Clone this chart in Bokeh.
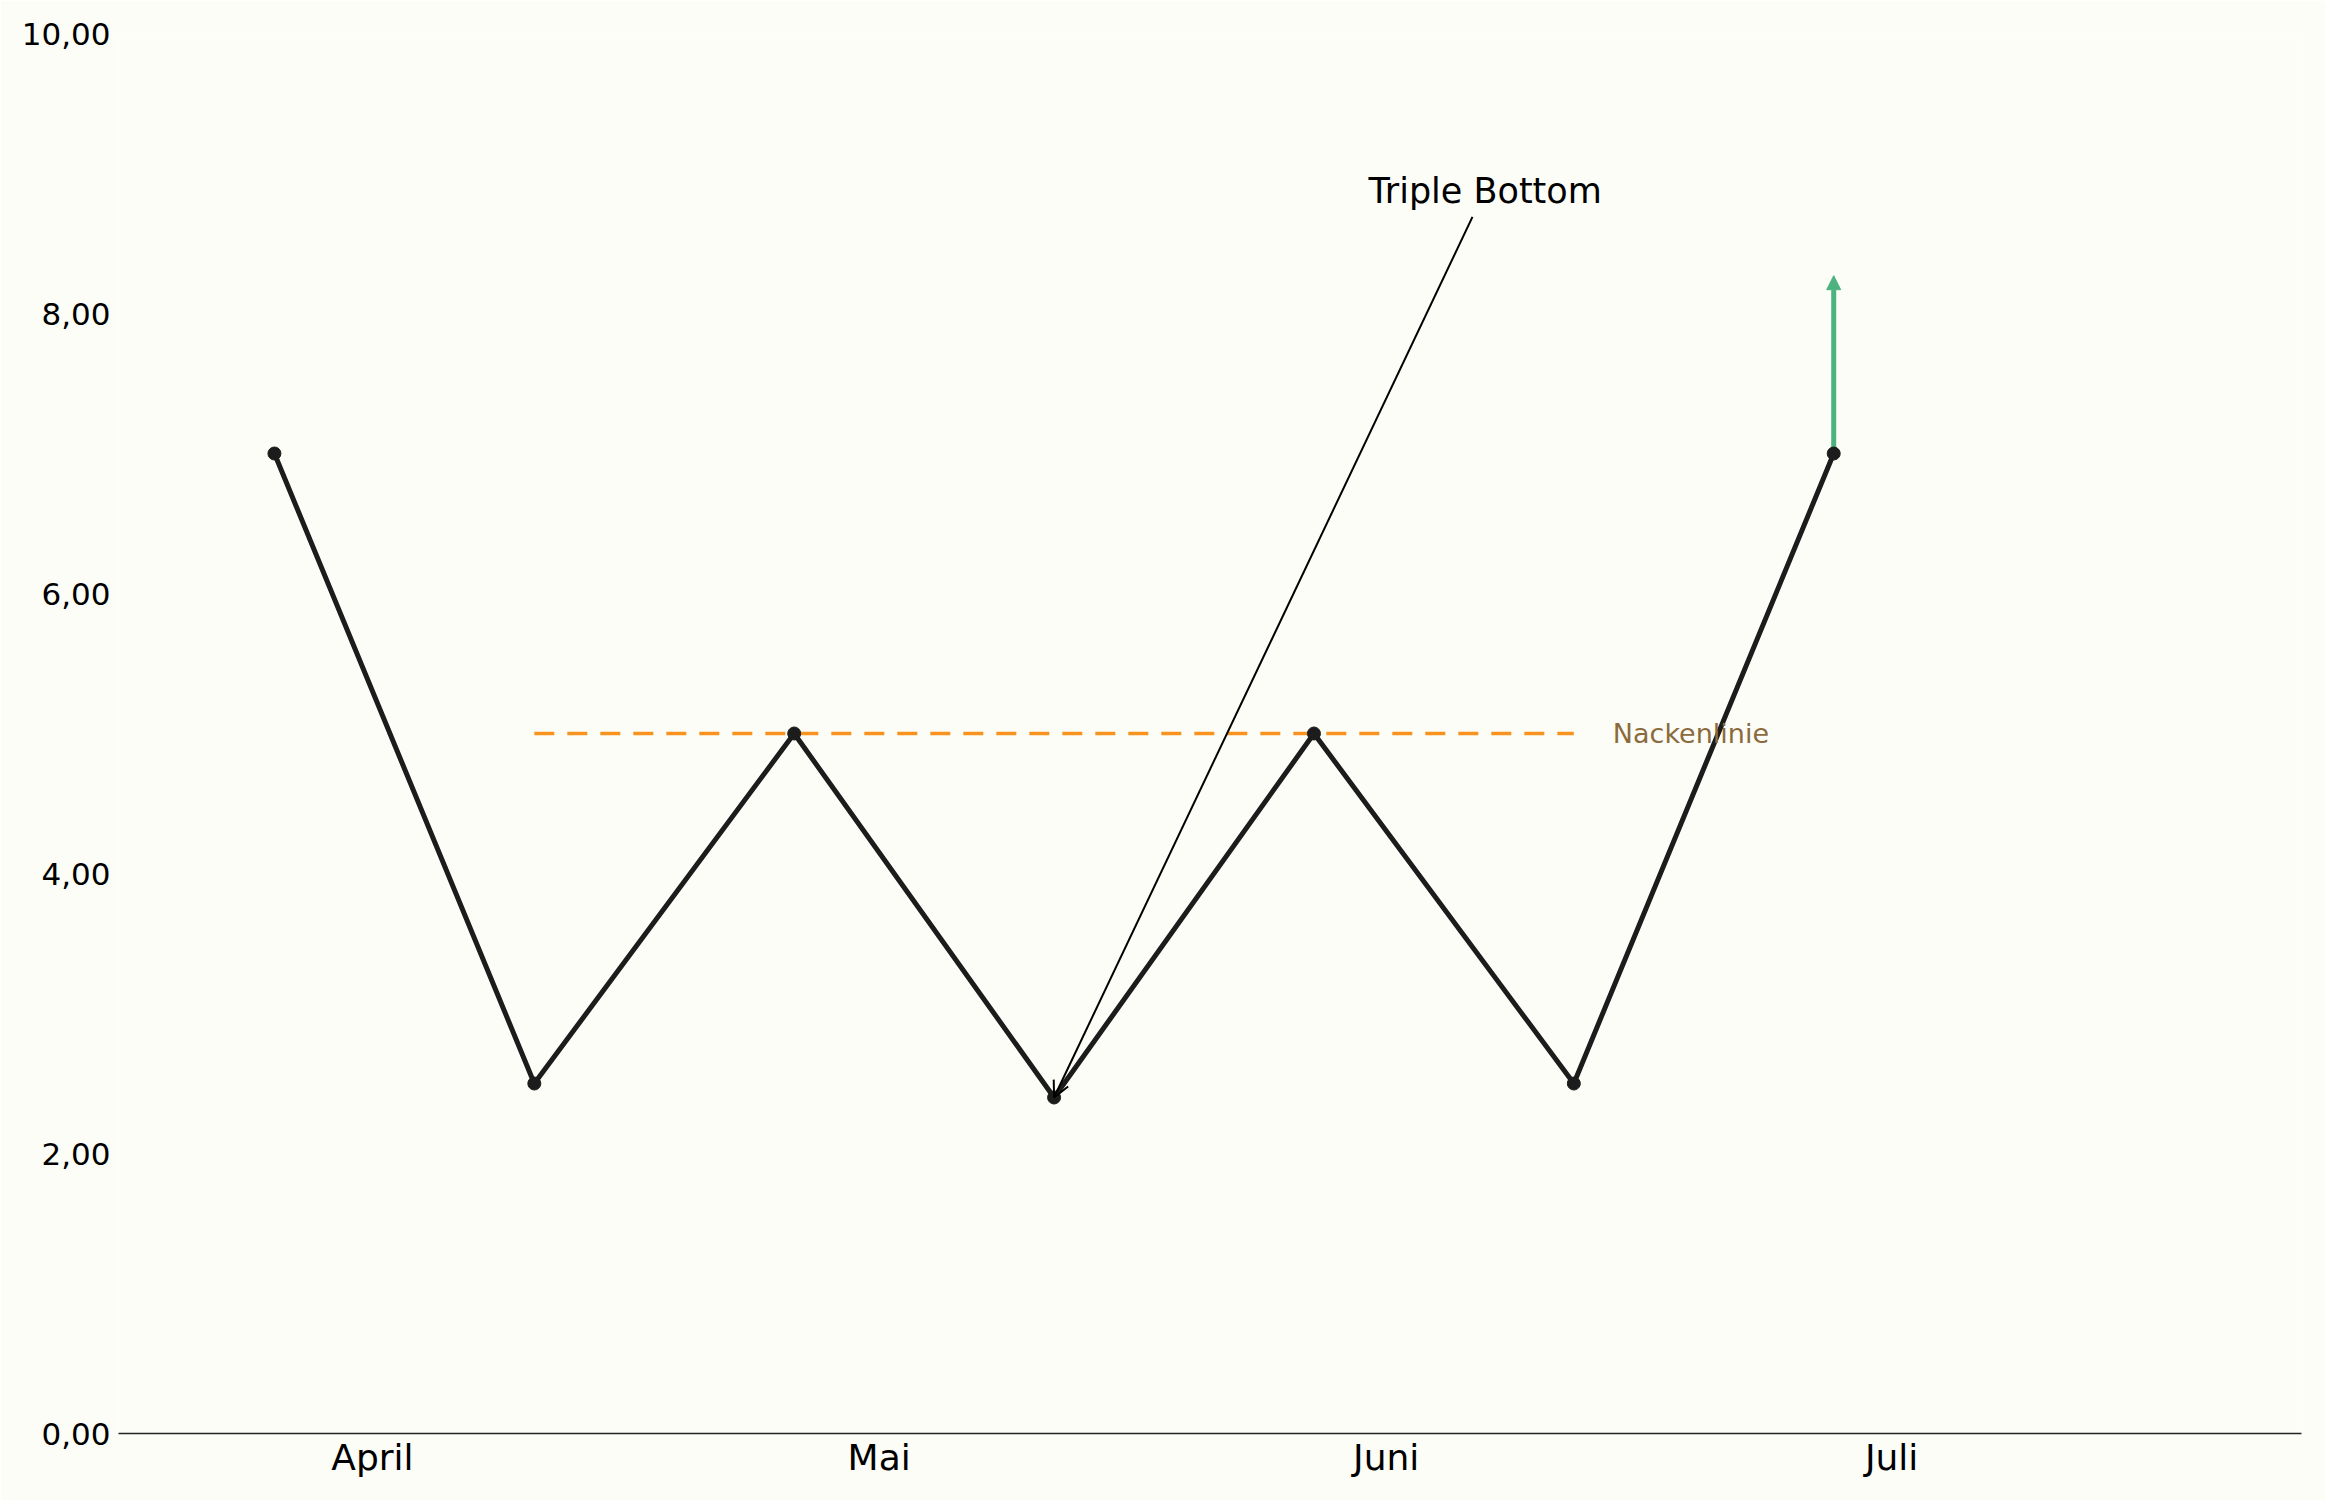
from bokeh.plotting import figure
from bokeh.models import Range1d, FixedTicker, Arrow, OpenHead, NormalHead, Label
from bokeh.embed import file_html
from bokeh.resources import INLINE

# ---- data ----
x_idx = [0, 1, 2, 3, 4, 5, 6]
prices = [7.0, 2.5, 5.0, 2.4, 5.0, 2.5, 7.0]

month_labels = ["April", "Mai", "Juni", "Juli"]
month_pos = [0.377, 2.327, 4.278, 6.223]

y_ticks = [0, 2, 4, 6, 8, 10]
y_tick_labels = ["0,00", "2,00", "4,00", "6,00", "8,00", "10,00"]

neck_level = 5.0
neck_x = [1, 5]
neck_label = "Nackenlinie"
neck_label_x = 5.15

breakout_x = 6
breakout_from = 7.0
breakout_to = 8.27

annot_text = "Triple Bottom"
annot_text_xy = (4.21, 8.875)
annot_line_start = (4.61, 8.69)
annot_target = (3, 2.4)

BG = "#FDFDF8"

p = figure(width=2325, height=1500, output_backend="svg", toolbar_location=None,
           x_range=Range1d(-0.6, 7.8), y_range=Range1d(0, 10),
           min_border_left=118, min_border_right=24, min_border_top=33, min_border_bottom=67)
p.background_fill_color = BG
p.border_fill_color = BG
p.outline_line_color = None
p.xgrid.grid_line_color = None
p.ygrid.grid_line_color = None

# axes
p.xaxis.ticker = FixedTicker(ticks=month_pos)
p.xaxis.major_label_overrides = {pos: lab for pos, lab in zip(month_pos, month_labels)}
p.xaxis.axis_line_color = "#222222"
p.xaxis.axis_line_width = 1.5
p.xaxis.major_tick_line_color = None
p.xaxis.minor_tick_line_color = None
p.xaxis.major_tick_out = 0
p.xaxis.major_tick_in = 0
p.xaxis.major_label_standoff = 3
p.xaxis.major_label_text_font = "DejaVu Sans"
p.xaxis.major_label_text_font_size = "36px"
p.xaxis.major_label_text_color = "#000000"

p.yaxis.ticker = FixedTicker(ticks=y_ticks)
p.yaxis.major_label_overrides = {t: l for t, l in zip(y_ticks, y_tick_labels)}
p.yaxis.axis_line_color = None
p.yaxis.major_tick_line_color = None
p.yaxis.minor_tick_line_color = None
p.yaxis.major_tick_out = 0
p.yaxis.major_tick_in = 0
p.yaxis.major_label_standoff = 8
p.yaxis.major_label_text_font = "DejaVu Sans"
p.yaxis.major_label_text_font_size = "31px"
p.yaxis.major_label_text_color = "#000000"

# breakout arrow (under the line)
p.add_layout(Arrow(x_start=breakout_x, y_start=breakout_from, x_end=breakout_x, y_end=breakout_to,
                   line_color="#4CB27F", line_width=5, level="underlay",
                   end=NormalHead(size=14, fill_color="#4CB27F", line_color="#4CB27F", line_width=1)))

# neckline
p.line(neck_x, [neck_level, neck_level], line_color="#F7931E", line_width=3.5, line_dash="20 13")

# price path
p.line(x_idx, prices, line_color="#1C1C1C", line_width=5)
p.scatter(x_idx, prices, size=13, color="#1C1C1C")

# labels
p.add_layout(Label(x=neck_label_x, y=neck_level, text=neck_label, text_baseline="middle",
                   text_font="DejaVu Sans", text_font_size="27px", text_color="#8B6B3D"))
p.add_layout(Label(x=annot_text_xy[0], y=annot_text_xy[1], text=annot_text, text_baseline="alphabetic",
                   text_font="DejaVu Sans", text_font_size="35px", text_color="#000000"))
p.add_layout(Arrow(x_start=annot_line_start[0], y_start=annot_line_start[1],
                   x_end=annot_target[0], y_end=annot_target[1],
                   line_color="#000000", line_width=2,
                   end=OpenHead(size=16, line_color="#000000", line_width=2)))

open("out.html", "w").write(file_html(p, INLINE))
